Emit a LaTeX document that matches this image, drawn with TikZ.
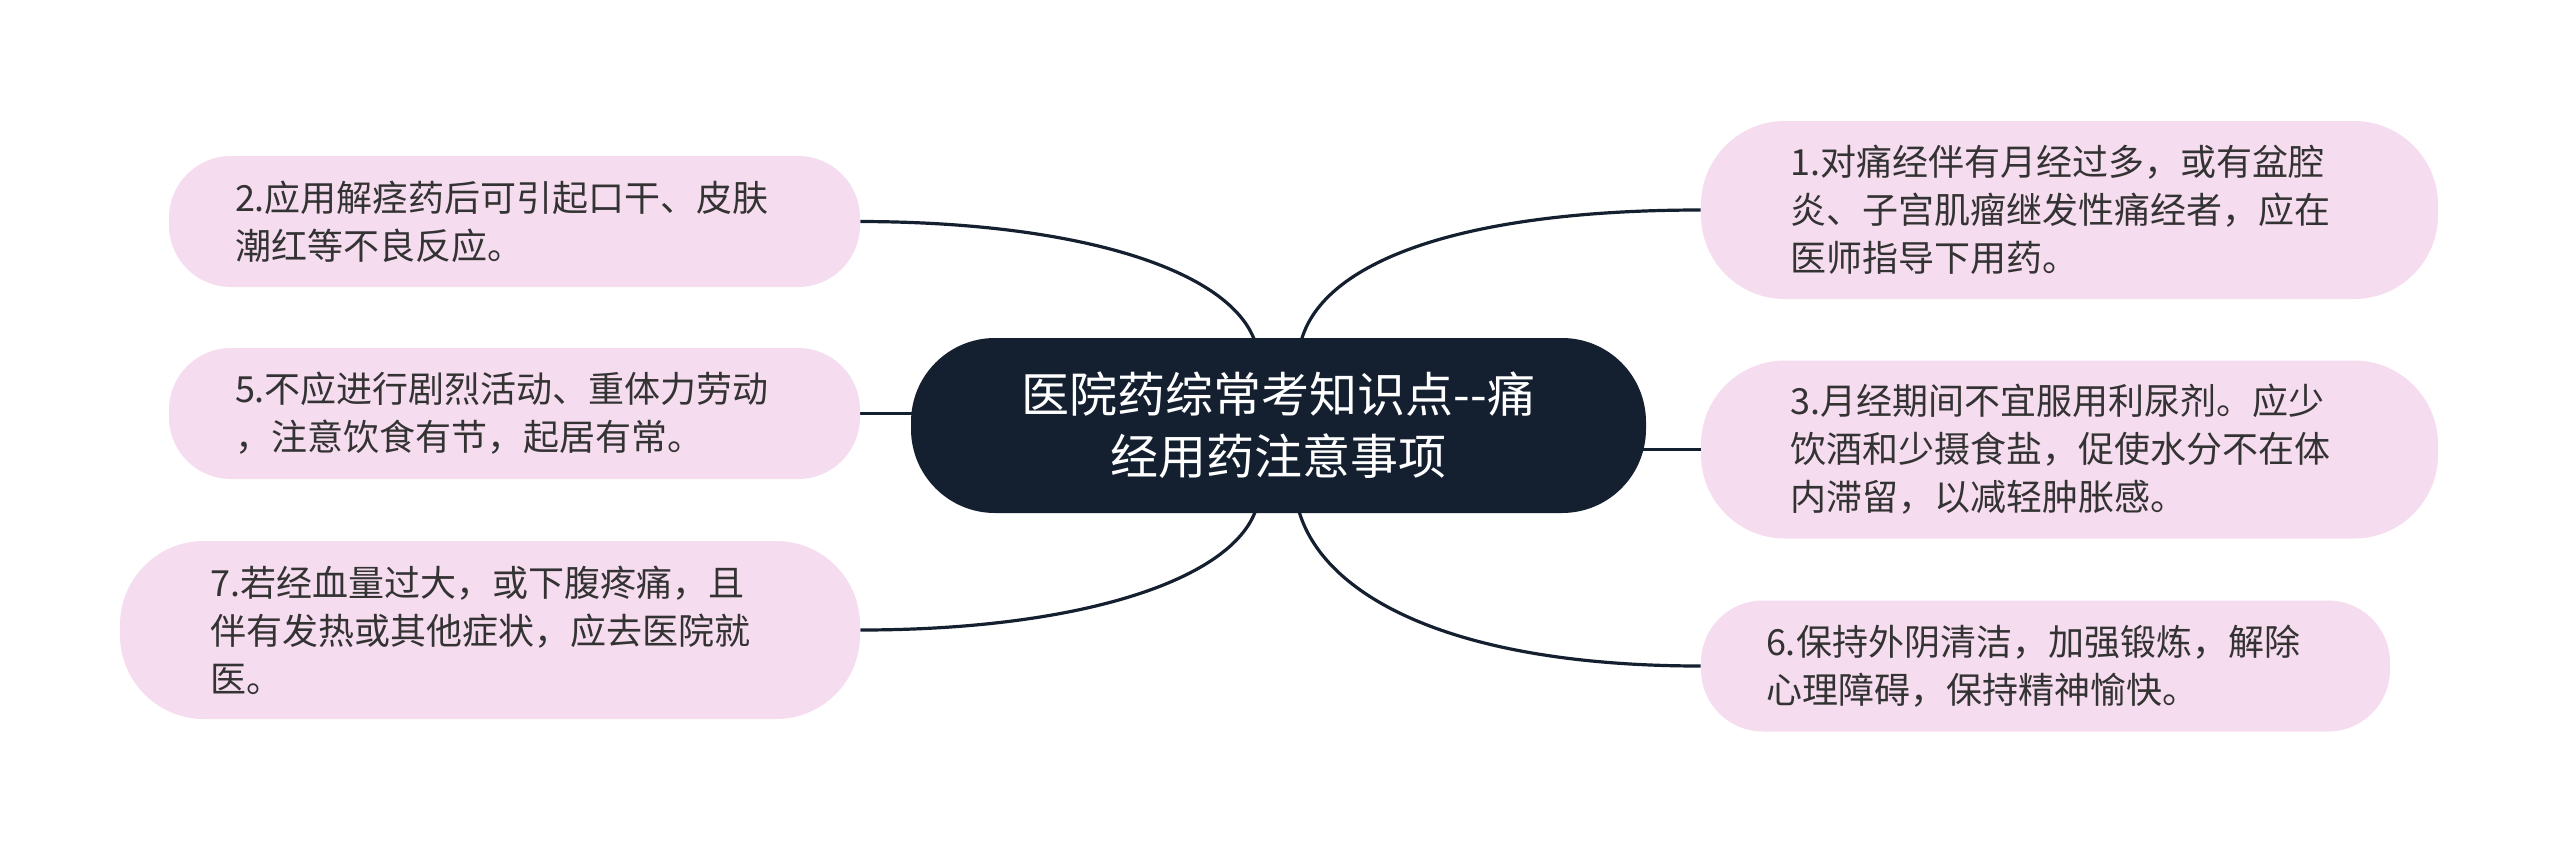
\documentclass[tikz,border=0pt]{standalone}
\usepackage{fontspec}
\newfontfamily\cjk{Noto Sans CJK SC}
\usetikzlibrary{calc,backgrounds}
\definecolor{pinkfill}{RGB}{246,220,239}
\definecolor{navy}{RGB}{20,32,48}
\definecolor{txt}{RGB}{51,51,51}
\tikzset{
  leaf/.style={fill=pinkfill, text=txt, font=\cjk\fontsize{18pt}{24pt}\selectfont, align=left, inner sep=0pt, text width=279.5pt},
  tallleaf/.style={leaf, minimum height=89pt, rounded corners=42pt},
  shortleaf/.style={leaf, minimum height=65.5pt, rounded corners=31pt},
  root/.style={fill=navy, text=white, font=\cjk\fontsize{24pt}{31pt}\selectfont, align=center, minimum width=367.5pt, minimum height=87.5pt, rounded corners=42pt, inner sep=0pt},
  link/.style={draw=navy, line width=1.6pt}
}
\begin{document}
\begin{tikzpicture}[x=0.5pt,y=-0.5pt]
\useasboundingbox (0,0) rectangle (2560,852);
\node[root] (c) at (1278.5,425.5) {医院药综常考知识点--痛\\经用药注意事项};
\node[shortleaf, minimum width=345.5pt] (n2) at (514.5,221.5) {2.应用解痉药后可引起口干、皮肤\\潮红等不良反应。};
\node[shortleaf, minimum width=345.5pt] (n5) at (514.5,413.5) {5.不应进行剧烈活动、重体力劳动\\，注意饮食有节，起居有常。};
\node[tallleaf, minimum width=370pt] (n7) at (490,630) {7.若经血量过大，或下腹疼痛，且\\伴有发热或其他症状，应去医院就\\医。};
\node[tallleaf, minimum width=368.5pt] (n1) at (2069.5,210) {1.对痛经伴有月经过多，或有盆腔\\炎、子宫肌瘤继发性痛经者，应在\\医师指导下用药。};
\node[tallleaf, minimum width=368.5pt] (n3) at (2069.5,449.5) {3.月经期间不宜服用利尿剂。应少\\饮酒和少摄食盐，促使水分不在体\\内滞留，以减轻肿胀感。};
\node[shortleaf, minimum width=344.5pt] (n6) at (2045.5,666) {6.保持外阴清洁，加强锻炼，解除\\心理障碍，保持精神愉快。};
\begin{scope}[on background layer]
\fill[white] (0,0) rectangle (2560,852);
\draw[link] ($(c.north)+(-23.5,4)$) .. controls (1230,270) and (1080,222) .. (n2.east);
\draw[link] ($(c.north)+(22.5,4)$) .. controls (1322,262) and (1460,210) .. (n1.west);
\draw[link] ($(c.south)+(-22.5,-4)$) .. controls (1232,580) and (1080,630) .. (n7.east);
\draw[link] ($(c.south)+(20,-4)$) .. controls (1322,595) and (1450,666) .. (n6.west);
\draw[link] (n5.east) -- (n5.east -| c.center);
\draw[link] (c.center |- n3.west) -- (n3.west);
\end{scope}
\end{tikzpicture}
\end{document}
